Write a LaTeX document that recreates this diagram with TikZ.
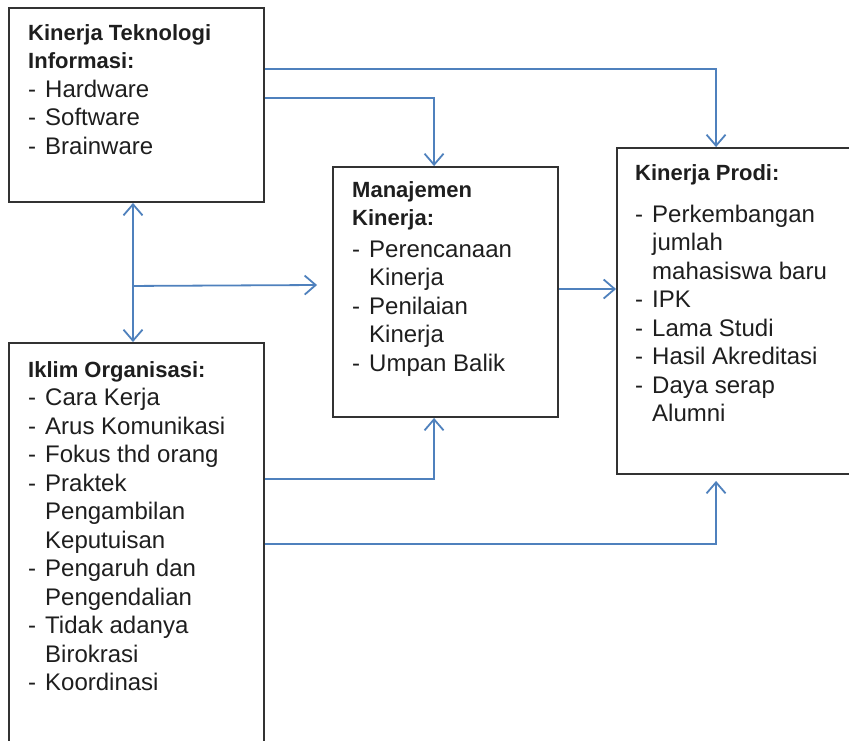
\documentclass[tikz,border=0pt]{standalone}
\usepackage{fontspec}
\setmainfont{Liberation Sans}
\usetikzlibrary{arrows.meta}
\definecolor{linkblue}{RGB}{79,129,189}
\definecolor{boxgray}{RGB}{50,50,50}
\definecolor{textgray}{RGB}{30,30,30}
\newcommand{\Dash}{\makebox[17pt][l]{-}}
\newcommand{\Cont}{\hspace*{17pt}}
\newcommand{\Head}[1]{{\fontsize{22}{28.5}\bfseries #1}}
\newcommand{\Lines}[1]{\begin{tabular}[t]{@{}l@{}}#1\end{tabular}}

\begin{document}
\begin{tikzpicture}[x=1pt,y=-1pt,
  >={Straight Barb[length=11pt,width=19pt]},
  box/.style={draw=boxgray,line width=1.9pt,rectangle,inner sep=0pt},
  txt/.style={anchor=base west,inner sep=0pt,text=textgray,
    font=\fontsize{24}{28.5}\selectfont},
  link/.style={draw=linkblue,line width=1.8pt,->}]
  \clip (0,0) rectangle (849,740);
  % kotak
  \node[box, minimum width=255pt, minimum height=194pt] (TI) at (136.5,105) {};
  \node[box, minimum width=255pt, minimum height=447pt] (IO) at (136.5,566.5) {};
  \node[box, minimum width=225pt, minimum height=250pt] (MK) at (445.5,292) {};
  \node[box, minimum width=263pt, minimum height=326pt] (KP) at (748.5,311) {};
  % isi kotak
  \node[txt] (TItext) at (28,40) {\Lines{\Head{Kinerja Teknologi}\\ \Head{Informasi:}\\
    \Dash Hardware\\ \Dash Software\\ \Dash Brainware}};
  \node[txt] (MKtext) at (352,197) {\Lines{\Head{Manajemen}\\ \Head{Kinerja:}\\[3pt]
    \Dash Perencanaan\\ \Cont Kinerja\\ \Dash Penilaian\\ \Cont Kinerja\\
    \Dash Umpan Balik}};
  \node[txt] (KPtext) at (635,180) {\Lines{\Head{Kinerja Prodi:}\\[13.5pt]
    \Dash Perkembangan\\ \Cont jumlah\\ \Cont mahasiswa baru\\ \Dash IPK\\
    \Dash Lama Studi\\ \Dash Hasil Akreditasi\\ \Dash Daya serap\\ \Cont Alumni}};
  \node[txt] (IOtext) at (28,377) {\Lines{\Head{Iklim Organisasi:}\\ \Dash Cara Kerja\\
    \Dash Arus Komunikasi\\ \Dash Fokus thd orang\\ \Dash Praktek\\
    \Cont Pengambilan\\ \Cont Keputuisan\\ \Dash Pengaruh dan\\
    \Cont Pengendalian\\ \Dash Tidak adanya\\ \Cont Birokrasi\\ \Dash Koordinasi}};
  % panah
  \coordinate (fork) at ([xshift=-3.5pt,yshift=-83pt]TI.south);
  \draw[link] ([yshift=-62pt]TI.north east) -| ([xshift=100pt]KP.north west);
  \draw[link] ([yshift=-91pt]TI.north east) -| ([xshift=102pt]MK.north west);
  \draw[link, <->] ([xshift=-3.5pt]TI.south) -- ([xshift=-3.5pt]IO.north);
  \draw[link] (fork) -- ([xshift=-15pt,yshift=7pt]MK.west);
  \draw[link] ([yshift=3pt]MK.east) -- ([yshift=3pt]MK.east -| KP.west);
  \draw[link] ([yshift=-137pt]IO.north east) -| ([xshift=102pt]MK.south west);
  \draw[link] ([yshift=-202pt]IO.north east) -| ([xshift=100pt,yshift=-6pt]KP.south west);
\end{tikzpicture}
\end{document}
